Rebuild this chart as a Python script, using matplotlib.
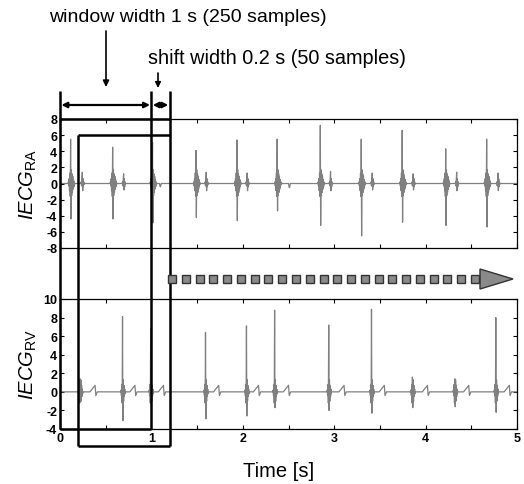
import numpy as np
import matplotlib
matplotlib.use("Agg")
import matplotlib.pyplot as plt
from matplotlib.transforms import blended_transform_factory
from matplotlib.patches import Polygon, FancyArrowPatch

plt.rcParams['font.family'] = ['Liberation Sans', 'DejaVu Sans']
plt.rcParams['mathtext.fontset'] = 'custom'
plt.rcParams['mathtext.rm'] = 'Liberation Sans'
plt.rcParams['mathtext.it'] = 'Liberation Sans:italic'
plt.rcParams['axes.unicode_minus'] = False

# ---------------- data ----------------
fs = 250            # samples per second
duration = 5.0      # seconds
window_width = 1.0  # s
shift_width = 0.2   # s

# RA channel: ventricular far-field beats (time, max, min)
ra_beat_t   = [0.117, 0.574, 1.012, 1.488, 1.937, 2.376, 2.847, 3.297, 3.743, 4.220, 4.668]
ra_beat_max = [5.5, 4.5, 5.1, 4.1, 5.4, 5.5, 7.2, 5.5, 6.6, 4.3, 5.5]
ra_beat_min = [-4.4, -4.4, -4.9, -4.2, -4.6, -3.4, -5.2, -6.5, -4.8, -5.2, -5.4]
# RA channel: small local deflections (time, max, min)
ra_small_t   = [0.245, 0.694, 1.600, 2.050, 2.960, 3.414, 3.863, 4.340, 4.790]
ra_small_max = [1.4, 1.2, 1.4, 1.3, 1.5, 1.3, 1.2, 1.4, 1.3]
ra_small_min = [-0.9, -0.8, -0.9, -0.9, -0.9, -0.8, -0.8, -0.9, -0.9]
ra_dip_t     = [1.100, 2.510]
ra_dip_depth = [-0.4, -0.5]

# RV channel: beats (time, max, min) and following T-like sawtooth times
rv_beat_t   = [0.220, 0.684, 0.994, 1.590, 2.040, 2.347, 2.940, 3.407, 3.856, 4.320, 4.770]
rv_beat_max = [1.4, 8.1, 6.8, 6.4, 7.1, 8.8, 7.2, 8.9, 1.6, 1.4, 8.0]
rv_beat_min = [-0.5, -3.1, -1.3, -2.9, -2.6, -1.7, -2.0, -2.3, -1.7, -1.6, -2.2]
rv_saw_t    = [0.373, 0.810, 1.120, 1.725, 2.160, 2.490, 3.095, 3.535, 4.010, 4.460, 4.905]

# shape templates (sample values); P/N replaced by the beat max/min
ra_main_tpl = [0.2, -0.3, 0.6, -0.9, 1.3, -1.6, 'P', 'N', 1.7, -1.5, 1.2, -1.1, 0.9, -0.7, 0.5, -0.4, 0.2, -0.1]
ra_small_tpl = [0.2, -0.3, 0.6, 'P', 'N', 0.6, -0.4, 0.2, -0.1]
rv_main_tpl = [0.2, -0.4, 0.8, -1.2, 'P', 'N', 1.3, -1.0, 0.7, -0.5, 0.3, -0.2]
rv_saw_tpl = [0.05, 0.1, 0.15, 0.2, 0.25, 0.3, 0.35, 0.4, 0.45, 0.5, 0.55, 0.6, 0.65, 0.7,
              0.2, -0.4, -0.3, -0.2, -0.1, 0.0]

n = int(duration * fs) + 1
t = np.arange(n) / fs


def add_events(sig, times, tpl, maxs=None, mins=None):
    ip = tpl.index('P') if 'P' in tpl else len(tpl) // 2
    for k, tk in enumerate(times):
        i0 = int(round(tk * fs)) - ip
        for j, v in enumerate(tpl):
            if v == 'P':
                v = maxs[k]
            elif v == 'N':
                v = mins[k]
            if 0 <= i0 + j < n:
                sig[i0 + j] += v
    return sig


ra = np.zeros(n)
add_events(ra, ra_beat_t, ra_main_tpl, ra_beat_max, ra_beat_min)
add_events(ra, ra_small_t, ra_small_tpl, ra_small_max, ra_small_min)
for tk, d in zip(ra_dip_t, ra_dip_depth):
    add_events(ra, [tk], [d / 2, d, d, d / 2])

rv = np.zeros(n)
add_events(rv, rv_beat_t, rv_main_tpl, rv_beat_max, rv_beat_min)
add_events(rv, rv_saw_t, rv_saw_tpl)

# ---------------- figure ----------------
W, H = 524, 485
fig = plt.figure(figsize=(W / 100, H / 100), dpi=100)


def fx(px):
    return px / W


def fy(py):
    return 1 - py / H


L, R = 60, 517
ax1 = fig.add_axes([fx(L), fy(249), fx(R - L), fy(120) - fy(249)])
ax2 = fig.add_axes([fx(L), fy(430), fx(R - L), fy(300) - fy(430)])

sig_color = '#808080'
ax1.plot(t, ra, color=sig_color, lw=0.9)
ax2.plot(t, rv, color=sig_color, lw=0.9)

ax1.set_ylim(-8, 8)
ax1.set_yticks(np.arange(-8, 9, 2))
ax2.set_ylim(-4, 10)
ax2.set_yticks(np.arange(-4, 11, 2))
xt = np.arange(0, 5.01, 0.5)
for ax in (ax1, ax2):
    ax.set_xlim(0, 5)
    ax.set_xticks(xt)
    ax.tick_params(direction='in', length=3, width=0.8, top=True, right=True,
                   labelsize=9, pad=2)
    for s in ax.spines.values():
        s.set_linewidth(0.9)
    for lab in ax.get_yticklabels():
        lab.set_fontweight('bold')
ax1.set_xticklabels([])
ax2.set_xticklabels(['0', '', '1', '', '2', '', '3', '', '4', '', '5'], fontweight='bold')

fig.text(fx(28), fy(185), r'$\mathit{IECG}_{\mathrm{RA}}$', rotation=90,
         ha='center', va='center', fontsize=14.5)
fig.text(fx(28), fy(365), r'$\mathit{IECG}_{\mathrm{RV}}$', rotation=90,
         ha='center', va='center', fontsize=14.5)
fig.text(fx(279), fy(472), 'Time [s]', ha='center', va='center', fontsize=14.5)

# ---------------- window annotations ----------------
tr = blended_transform_factory(ax1.transData, fig.transFigure)
lw = 1.8
x0 = 0.0
x1 = x0 + window_width
xs = x0 + shift_width
x2 = xs + window_width
top_v = fy(92)
y_top1 = fy(120)
y_top2 = fy(136)
y_bot1 = fy(430)
y_bot2 = fy(447)
kw = dict(color='black', lw=lw, transform=tr, clip_on=False, solid_capstyle='butt')
lines = [
    ([x0, x0], [top_v, y_bot1]),
    ([x1, x1], [top_v, y_bot1]),
    ([x2, x2], [top_v, y_bot2]),
    ([x0, x2], [y_top1, y_top1]),
    ([x0, x1], [y_bot1, y_bot1]),
    ([xs, xs], [y_top2, y_bot2]),
    ([xs, x2], [y_top2, y_top2]),
    ([xs, x2], [y_bot2, y_bot2]),
]
for xx, yy in lines:
    fig.add_artist(plt.Line2D(xx, yy, **kw))

ya = fy(106)
for a, b in [(x0, x1), (x1, x2)]:
    fig.add_artist(FancyArrowPatch((a, ya), (b, ya), transform=tr, arrowstyle='<|-|>',
                                   mutation_scale=8, color='black', lw=1.6,
                                   shrinkA=1, shrinkB=1))

fig.text(fx(188), fy(17), 'window width 1 s (250 samples)', ha='center', va='center', fontsize=14)
fig.text(fx(277), fy(58), 'shift width 0.2 s (50 samples)', ha='center', va='center', fontsize=14.3)
fig.add_artist(FancyArrowPatch((fx(106), fy(32)), (fx(106), fy(88)), transform=fig.transFigure,
                               arrowstyle='-|>', mutation_scale=9, color='black', lw=1.2,
                               shrinkA=0, shrinkB=0))
fig.add_artist(FancyArrowPatch((fx(158), fy(74)), (fx(158), fy(89)), transform=fig.transFigure,
                               arrowstyle='-|>', mutation_scale=8, color='black', lw=1.2,
                               shrinkA=0, shrinkB=0))

# dashed (square-dotted) sliding arrow
ys = fy(280)
sq_x = np.linspace(fx(172), fx(475), 23)
fig.add_artist(plt.Line2D(sq_x, [ys] * len(sq_x), transform=fig.transFigure, ls='none',
                          marker='s', markersize=5.5, markerfacecolor='#8a8a8a',
                          markeredgecolor='#333333', markeredgewidth=1.0))
fig.add_artist(Polygon([[fx(480), fy(270)], [fx(513), fy(280)], [fx(480), fy(290)]],
                       closed=True, transform=fig.transFigure, facecolor='#8a8a8a',
                       edgecolor='#333333', lw=1.0))

fig.savefig('out.png', dpi=100)
